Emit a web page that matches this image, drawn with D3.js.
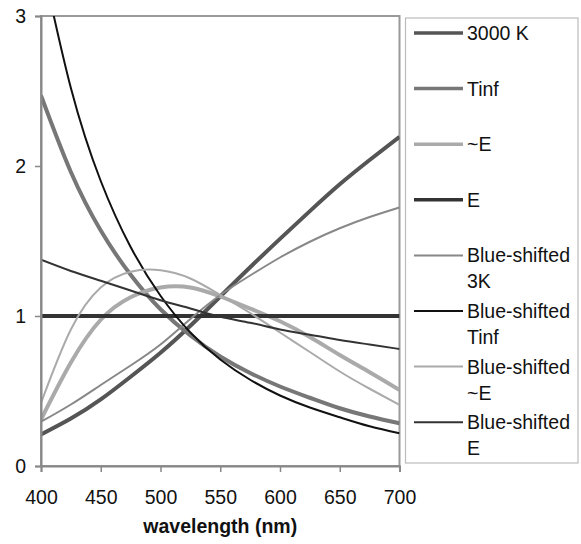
<!DOCTYPE html>
<html>
<head>
<meta charset="utf-8">
<script src="https://cdn.jsdelivr.net/npm/d3@7"></script>
<style>
  body { margin: 0; background: #fff; }
  text { font-family: "Liberation Sans", Arial, sans-serif; fill: #111; }
</style>
</head>
<body>
<div id="chart"></div>
<script>
// wavelength samples (nm)
const wavelengths = [400, 425, 450, 475, 500, 525, 550, 575, 600, 625, 650, 675, 700]

// series values
const k3000   = [0.21, 0.316, 0.444, 0.595, 0.755, 0.935, 1.13, 1.325, 1.514, 1.699, 1.878, 2.04, 2.195]
const tinf    = [2.47, 1.96, 1.57, 1.275, 1.045, 0.87, 0.73, 0.62, 0.53, 0.455, 0.385, 0.33, 0.285]
const nearE   = [0.31, 0.69, 0.975, 1.125, 1.19, 1.19, 1.13, 1.05, 0.965, 0.86, 0.74, 0.625, 0.507]
const flatE   = [1, 1, 1, 1, 1, 1, 1, 1, 1, 1, 1, 1, 1]
const bs3k    = [0.295, 0.41, 0.54, 0.67, 0.81, 0.98, 1.14, 1.27, 1.39, 1.495, 1.585, 1.66, 1.724]
const bsTinf  = [3.39, 2.52, 1.9, 1.46, 1.135, 0.89, 0.71, 0.575, 0.47, 0.39, 0.325, 0.265, 0.218]
const bsNearE = [0.42, 0.91, 1.19, 1.295, 1.305, 1.25, 1.14, 1.02, 0.89, 0.76, 0.63, 0.515, 0.407]
const bsE     = [1.375, 1.30, 1.235, 1.17, 1.105, 1.05, 0.995, 0.955, 0.91, 0.875, 0.84, 0.81, 0.78]

const seriesLabels = ['3000 K', 'Tinf', '~E', 'E', 'Blue-shifted 3K', 'Blue-shifted Tinf', 'Blue-shifted ~E', 'Blue-shifted E']
const seriesValues = [k3000, tinf, nearE, flatE, bs3k, bsTinf, bsNearE, bsE]
const seriesColors = ['#555555', '#777777', '#aaaaaa', '#333333', '#888888', '#111111', '#aaaaaa', '#333333']
const seriesWidths = [4, 4, 4, 4, 2, 2, 2, 2]

const xTicks = [400, 450, 500, 550, 600, 650, 700]
const yTicks = [0, 1, 2, 3]

const W = 581, H = 544
const plot = {left: 41, right: 399.5, top: 16, bottom: 466}

const svg = d3.select('#chart').append('svg')
  .attr('width', W)
  .attr('height', H)

const x = d3.scaleLinear().domain([400, 700]).range([plot.left, plot.right])
const y = d3.scaleLinear().domain([0, 3]).range([plot.bottom, plot.top])

// clip for lines going over 3
svg.append('clipPath').attr('id', 'plotclip')
  .append('rect')
  .attr('x', plot.left).attr('y', plot.top)
  .attr('width', plot.right - plot.left).attr('height', plot.bottom - plot.top)

// plot frame
svg.append('rect')
  .attr('x', plot.left).attr('y', plot.top)
  .attr('width', plot.right - plot.left).attr('height', plot.bottom - plot.top)
  .style('fill', 'none')
  .style('stroke', '#999')
  .style('stroke-width', 2)

// series lines
const line = d3.line()
  .x((d, i) => x(wavelengths[i]))
  .y(d => y(d))
  .curve(d3.curveNatural)

const lines = svg.append('g').attr('clip-path', 'url(#plotclip)')
seriesValues.forEach((vals, i) => {
  lines.append('path')
    .datum(vals)
    .attr('d', line)
    .style('fill', 'none')
    .style('stroke', seriesColors[i])
    .style('stroke-width', seriesWidths[i])
})

// axes
const yAxis = svg.append('g')
  .attr('transform', 'translate(' + plot.left + ',0)')
  .call(d3.axisLeft(y).tickValues(yTicks).tickFormat(d3.format('d')).tickSize(6).tickPadding(9))
const xAxis = svg.append('g')
  .attr('transform', 'translate(0,' + plot.bottom + ')')
  .call(d3.axisBottom(x).tickValues(xTicks).tickFormat(d3.format('d')).tickSize(6).tickPadding(18))

;[xAxis, yAxis].forEach(ax => {
  ax.select('.domain').style('stroke', '#888').style('stroke-width', 2)
  ax.selectAll('.tick line').style('stroke', '#888').style('stroke-width', 1.5)
  ax.selectAll('.tick text')
    .style('font-size', '19.5px')
    .style('font-family', '"Liberation Sans", Arial, sans-serif')
    .style('fill', '#111')
})

// x axis title
svg.append('text')
  .attr('x', (plot.left + plot.right) / 2)
  .attr('y', 533)
  .attr('text-anchor', 'middle')
  .style('font-size', '19.5px')
  .style('font-weight', 'bold')
  .text('wavelength (nm)')

// LEGEND
svg.append('rect')
  .attr('x', 405.5).attr('y', 18)
  .attr('width', 172.5).attr('height', 445)
  .style('fill', '#fff')
  .style('stroke', '#bbb')
  .style('stroke-width', 1.2)

const legendItems = svg.append('g').selectAll('.legend-item')
  .data(seriesLabels)
  .enter()
  .append('g')
  .attr('class', 'legend-item')
  .attr('transform', (d, i) => 'translate(0,' + (33 + i * 55.6) + ')')

legendItems.append('line')
  .attr('x1', 414).attr('x2', 463)
  .attr('y1', 0).attr('y2', 0)
  .style('stroke', (d, i) => seriesColors[i])
  .style('stroke-width', (d, i) => seriesWidths[i] === 4 ? 3.5 : 2)

legendItems.each(function(d) {
  const words = d.startsWith('Blue-shifted') ? ['Blue-shifted', d.slice(13)] : [d]
  const t = d3.select(this).append('text')
    .attr('x', 467)
    .attr('y', 0)
    .style('font-size', '19.5px')
  words.forEach((w, j) => {
    t.append('tspan')
      .attr('x', 467)
      .attr('y', 7 + j * 26)
      .text(w)
  })
})
</script>
</body>
</html>
